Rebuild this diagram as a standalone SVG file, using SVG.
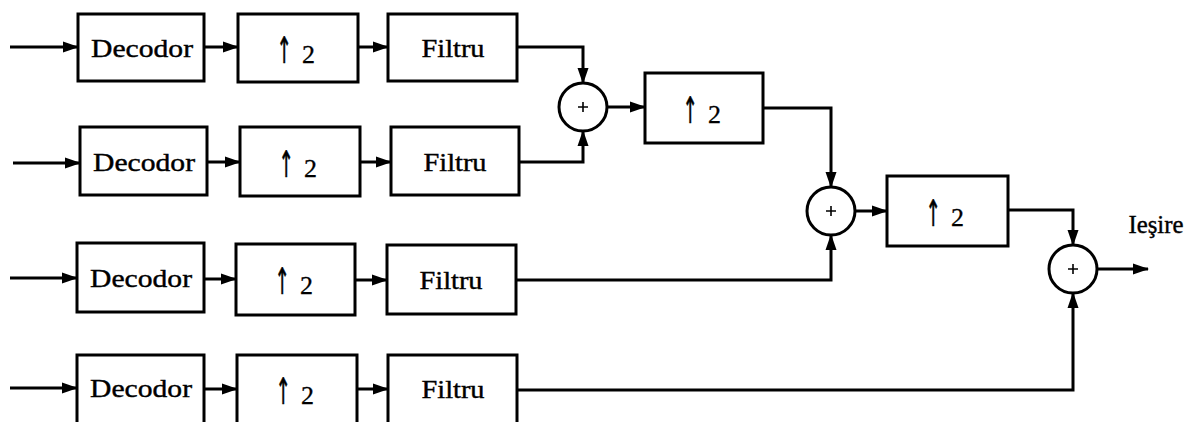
<svg xmlns="http://www.w3.org/2000/svg" width="1204" height="422" viewBox="0 0 1204 422">
<style>
.box{fill:#fff;stroke:#000;stroke-width:3}
.sum{fill:#fff;stroke:#000;stroke-width:3}
.plus{stroke:#000;stroke-width:1.6;fill:none}
.t{font-family:"Liberation Serif","DejaVu Serif",serif;font-size:25px;fill:#000;stroke:#000;stroke-width:0.4;text-anchor:middle}
.n{font-family:"Liberation Serif","DejaVu Serif",serif;font-size:26px;fill:#000;stroke:#000;stroke-width:0.3}
.ar{font-family:"DejaVu Sans",sans-serif;font-size:26px;fill:#000;stroke:#000;stroke-width:0.5;text-anchor:middle}
.c{fill:none;stroke:#000;stroke-width:3;marker-end:url(#ah)}
</style>
<defs>
<marker id="ah" markerUnits="userSpaceOnUse" markerWidth="17" markerHeight="12" refX="15" refY="6" orient="auto">
<path d="M0,0.5 L16,6 L0,11.5 z" fill="#000"/>
</marker>
</defs>
<rect width="1204" height="422" fill="#fff"/>
<g id="connectors">
<path class="c" d="M10,47 H78"/>
<path class="c" d="M204,47 H238"/>
<path class="c" d="M358,47 H388"/>
<path class="c" d="M13,163 H80"/>
<path class="c" d="M207,162 H240"/>
<path class="c" d="M360,162 H391"/>
<path class="c" d="M10,278 H77"/>
<path class="c" d="M204,279 H236"/>
<path class="c" d="M355,280 H387"/>
<path class="c" d="M10,388 H77"/>
<path class="c" d="M204,389 H237"/>
<path class="c" d="M357,389 H388"/>
<path class="c" d="M517,47 H583 V83"/>
<path class="c" d="M519,162 H583 V131"/>
<path class="c" d="M607,107 H645"/>
<path class="c" d="M763,108 H831 V187"/>
<path class="c" d="M516,280 H831 V235"/>
<path class="c" d="M855,211 H887"/>
<path class="c" d="M1008,210 H1073 V245"/>
<path class="c" d="M517,390 H1073 V293"/>
<path class="c" d="M1097,269 H1148"/>
</g>
<g id="dec1"><rect class="box" x="78" y="14" width="126" height="67"/><text class="t" x="142" y="57" textLength="102" lengthAdjust="spacingAndGlyphs">Decodor</text></g>
<g id="up1"><rect class="box" x="238" y="14" width="120" height="68"/><text class="ar" transform="translate(284,63) scale(0.7,1.4)">↑</text><text class="n" x="302" y="63">2</text></g>
<g id="fil1"><rect class="box" x="388" y="14" width="129" height="67"/><text class="t" x="453" y="57" textLength="63" lengthAdjust="spacingAndGlyphs">Filtru</text></g>
<g id="dec2"><rect class="box" x="80" y="127" width="127" height="68"/><text class="t" x="144" y="171" textLength="102" lengthAdjust="spacingAndGlyphs">Decodor</text></g>
<g id="up2"><rect class="box" x="240" y="127" width="120" height="69"/><text class="ar" transform="translate(286,177) scale(0.7,1.4)">↑</text><text class="n" x="304" y="177">2</text></g>
<g id="fil2"><rect class="box" x="391" y="127" width="128" height="68"/><text class="t" x="455" y="171" textLength="63" lengthAdjust="spacingAndGlyphs">Filtru</text></g>
<g id="dec3"><rect class="box" x="77" y="243" width="127" height="69"/><text class="t" x="141" y="287" textLength="102" lengthAdjust="spacingAndGlyphs">Decodor</text></g>
<g id="up3"><rect class="box" x="236" y="244" width="119" height="71"/><text class="ar" transform="translate(282,294) scale(0.7,1.4)">↑</text><text class="n" x="300" y="294">2</text></g>
<g id="fil3"><rect class="box" x="387" y="245" width="129" height="69"/><text class="t" x="451" y="289" textLength="63" lengthAdjust="spacingAndGlyphs">Filtru</text></g>
<g id="dec4"><rect class="box" x="77" y="355" width="127" height="69"/><text class="t" x="141" y="397" textLength="102" lengthAdjust="spacingAndGlyphs">Decodor</text></g>
<g id="up4"><rect class="box" x="237" y="355" width="120" height="69"/><text class="ar" transform="translate(283,404) scale(0.7,1.4)">↑</text><text class="n" x="301" y="404">2</text></g>
<g id="fil4"><rect class="box" x="388" y="355" width="129" height="69"/><text class="t" x="453" y="398" textLength="63" lengthAdjust="spacingAndGlyphs">Filtru</text></g>
<g id="sum1"><circle class="sum" cx="583" cy="107" r="24"/><path class="plus" d="M578,107 H588 M583,102 V112"/></g>
<g id="up5"><rect class="box" x="645" y="73" width="118" height="70"/><text class="ar" transform="translate(690,123) scale(0.7,1.4)">↑</text><text class="n" x="708" y="123">2</text></g>
<g id="sum2"><circle class="sum" cx="831" cy="211" r="24"/><path class="plus" d="M826,211 H836 M831,206 V216"/></g>
<g id="up6"><rect class="box" x="887" y="176" width="121" height="70"/><text class="ar" transform="translate(933,226) scale(0.7,1.4)">↑</text><text class="n" x="951" y="226">2</text></g>
<g id="sum3"><circle class="sum" cx="1073" cy="269" r="24"/><path class="plus" d="M1068,269 H1078 M1073,264 V274"/></g>
<g id="out"><text class="t" x="1156" y="233" textLength="55" lengthAdjust="spacingAndGlyphs">Ieşire</text></g>
</svg>
